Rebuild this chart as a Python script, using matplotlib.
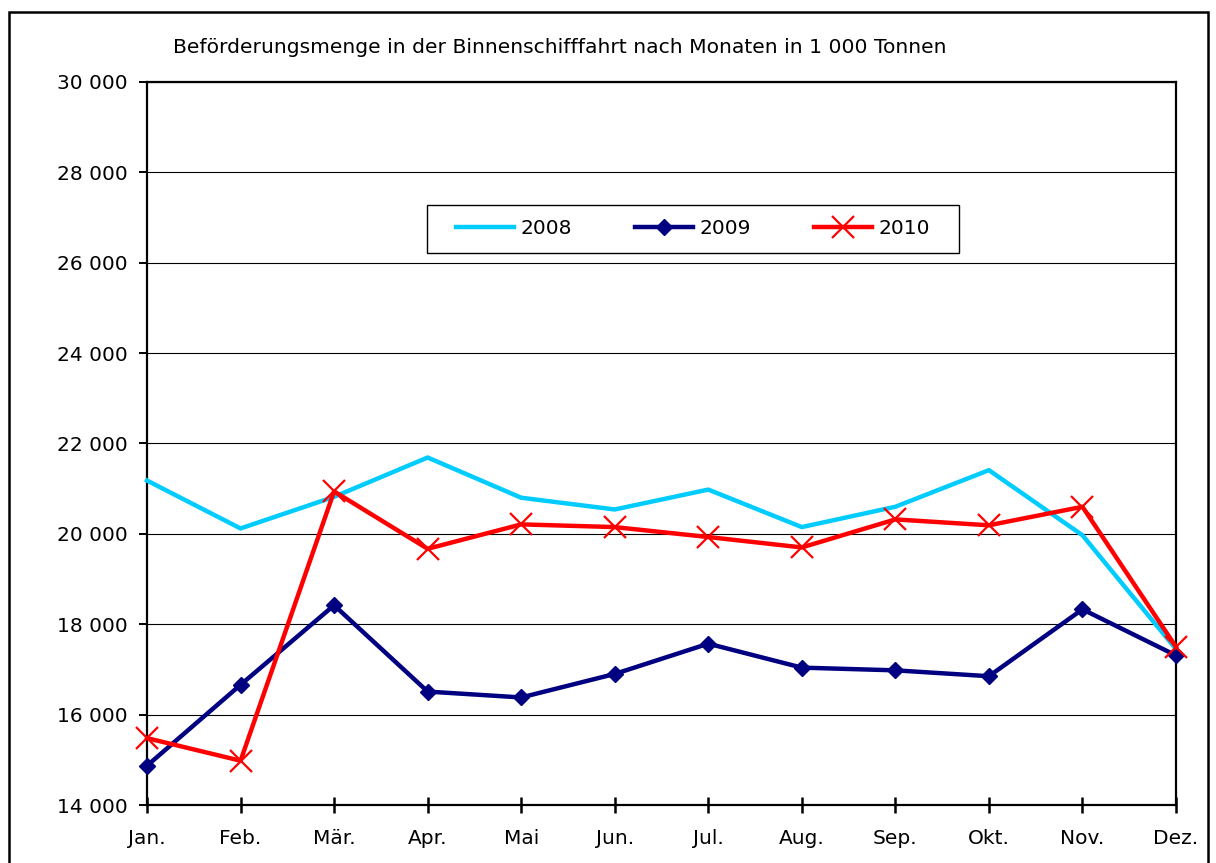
import matplotlib
matplotlib.use("Agg")
import matplotlib.pyplot as plt
from matplotlib.patches import Rectangle
from matplotlib.ticker import FuncFormatter

# Monthly freight volume, inland waterways, 1 000 t
months = ["Jan.", "Feb.", "Mär.", "Apr.", "Mai", "Jun.",
          "Jul.", "Aug.", "Sep.", "Okt.", "Nov.", "Dez."]
v2008 = [21180, 20120, 20820, 21690, 20800, 20540,
         20980, 20150, 20600, 21410, 19970, 17450]
v2009 = [14870, 16660, 18420, 16510, 16380, 16900,
         17570, 17040, 16980, 16850, 18330, 17310]
v2010 = [15480, 14980, 20940, 19670, 20210, 20150,
         19930, 19700, 20320, 20190, 20600, 17500]

title = "Beförderungsmenge in der Binnenschifffahrt nach Monaten in 1 000 Tonnen"


def main():
    plt.rcParams["font.family"] = ["DejaVu Sans"]
    fig = plt.figure(figsize=(12.16, 8.63), dpi=100)
    ax = fig.add_axes([0.1209, 0.0672, 0.8462, 0.8378])

    x = list(range(len(months)))
    ax.plot(x, v2008, color="#00ccff", lw=3.2, label="2008", zorder=3,
            clip_on=False)
    ax.plot(x, v2009, color="#000080", lw=3.2, marker="D", ms=8.5,
            label="2009", zorder=4, clip_on=False)
    ax.plot(x, v2010, color="#ff0000", lw=3.2, marker="x", ms=16, mew=1.6,
            label="2010", zorder=5, clip_on=False)

    ax.set_xlim(0, 11)
    ax.set_ylim(14000, 30000)
    ax.set_yticks(range(14000, 30001, 2000))
    ax.yaxis.set_major_formatter(
        FuncFormatter(lambda v, p: "{:,}".format(int(v)).replace(",", " ")))
    ax.set_xticks(x)
    ax.set_xticklabels(months)
    ax.grid(axis="y", color="black", lw=0.8)
    ax.set_axisbelow(True)

    for s in ax.spines.values():
        s.set_linewidth(1.6)
    ax.tick_params(axis="y", direction="out", length=6, width=1.4,
                   labelsize=14.5, pad=8)
    ax.tick_params(axis="x", direction="inout", length=12, width=1.8,
                   labelsize=14.5, pad=11)

    # legend box drawn separately so its padding matches the original
    leg = ax.legend(loc="center", bbox_to_anchor=(0.5306, 0.7967), ncol=3,
                    fontsize=14.5, frameon=False, handlelength=2.88,
                    handletextpad=0.3, columnspacing=3.15)
    leg.set_zorder(6)
    ax.add_patch(Rectangle((0.2721, 0.7635), 0.517, 0.0664,
                           transform=ax.transAxes, facecolor="white",
                           edgecolor="black", lw=1.0, zorder=5.5))

    fig.text(0.142, 0.9455, title, fontsize=14.6, va="center", ha="left")

    # outer frame round the whole chart
    fig.patches.append(Rectangle((9 / 1216, -0.05), 1199 / 1216, 1.05 - 12 / 863,
                                 transform=fig.transFigure, fill=False,
                                 edgecolor="black", lw=1.8))

    fig.savefig("out.png", dpi=100)


if __name__ == '__main__':
    main()
